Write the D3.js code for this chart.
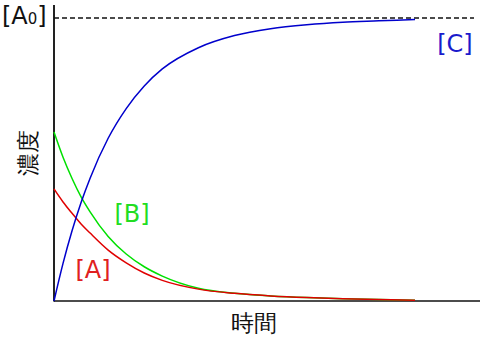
<!DOCTYPE html>
<html>
<head>
<meta charset="utf-8">
<script src="https://cdn.jsdelivr.net/npm/d3@7"></script>
<style>
  body { margin: 0; background: #fff; }
  text { font-family: "DejaVu Sans", sans-serif; }
</style>
</head>
<body>
<div id="chart"></div>
<script>
// time points (arbitrary units) and concentrations as a fraction of [A0]
var times = [0, 0.25, 0.5, 0.75, 1, 1.5, 2, 2.5, 3, 4, 5, 6, 7, 8, 9, 10];
var concA = [0.396, 0.35, 0.31, 0.272, 0.24, 0.18, 0.135, 0.099, 0.073, 0.042, 0.027, 0.018, 0.012, 0.008, 0.005, 0.003];
var concB = [0.597, 0.508, 0.433, 0.368, 0.315, 0.228, 0.166, 0.121, 0.088, 0.045, 0.027, 0.018, 0.012, 0.008, 0.005, 0.003];
var concC = [0, 0.133, 0.248, 0.348, 0.434, 0.575, 0.68, 0.76, 0.82, 0.895, 0.938, 0.962, 0.976, 0.985, 0.99, 0.995];
var a0 = 1;

var width = 480, height = 347;
var margin = {left: 54, right: 0, top: 5, bottom: 46};

var svg = d3.select("#chart").append("svg")
    .attr("width", width)
    .attr("height", height);

// time axis runs to x = 415 at t = 10
var xScale = d3.scaleLinear().domain([0, 10]).range([margin.left, 415]);
var yScale = d3.scaleLinear().domain([0, a0]).range([301, 18]);

// axes (plain lines, no ticks)
svg.append("line")
    .attr("x1", margin.left).attr("x2", margin.left)
    .attr("y1", margin.top).attr("y2", yScale(0) + 0.5)
    .attr("stroke", "#222").attr("stroke-width", 2);
svg.append("line")
    .attr("x1", margin.left).attr("x2", width)
    .attr("y1", yScale(0)).attr("y2", yScale(0))
    .attr("stroke", "#111").attr("stroke-width", 1.5);

// [A0] reference line
svg.append("line")
    .attr("x1", margin.left).attr("x2", 474)
    .attr("y1", yScale(a0)).attr("y2", yScale(a0))
    .attr("stroke", "#111").attr("stroke-width", 1.5)
    .attr("stroke-dasharray", "5,3");

var line = d3.line()
    .x(function(d) { return xScale(d[0]); })
    .y(function(d) { return yScale(d[1]); })
    .curve(d3.curveMonotoneX);

var series = [
  {name: "B", values: concB, color: "#00e000"},
  {name: "A", values: concA, color: "#e00000"},
  {name: "C", values: concC, color: "#0000cc"}
];

svg.selectAll(".curve")
    .data(series)
    .enter().append("path")
    .attr("class", "curve")
    .attr("d", function(s) { return line(times.map(function(t, i) { return [t, s.values[i]]; })); })
    .attr("fill", "none")
    .attr("stroke", function(s) { return s.color; })
    .attr("stroke-width", 1.5);

// series labels
var labels = [
  {text: "[A]", x: 93, y: 278, color: "#e02020"},
  {text: "[B]", x: 132, y: 222, color: "#22dd22"},
  {text: "[C]", x: 455, y: 52, color: "#1a1acc"}
];
svg.selectAll(".lbl")
    .data(labels)
    .enter().append("text")
    .attr("class", "lbl")
    .attr("x", function(d) { return d.x; })
    .attr("y", function(d) { return d.y; })
    .attr("text-anchor", "middle")
    .attr("font-size", 24)
    .attr("fill", function(d) { return d.color; })
    .text(function(d) { return d.text; });

// [A0] label
var a0Label = svg.append("text")
    .attr("x", 2).attr("y", 24)
    .attr("font-size", 24)
    .attr("fill", "#111");
a0Label.append("tspan").text("[A");
a0Label.append("tspan").attr("font-size", 15).text("0");
a0Label.append("tspan").text("]");

// axis titles
svg.append("text")
    .attr("x", 254).attr("y", 331)
    .attr("text-anchor", "middle")
    .attr("font-size", 23)
    .attr("font-family", "'Noto Sans CJK JP', sans-serif")
    .attr("fill", "#111")
    .text("時間");

svg.append("text")
    .attr("transform", "translate(36,153) rotate(-90)")
    .attr("text-anchor", "middle")
    .attr("font-size", 23)
    .attr("font-family", "'Noto Sans CJK JP', sans-serif")
    .attr("fill", "#111")
    .text("濃度");
</script>
</body>
</html>
